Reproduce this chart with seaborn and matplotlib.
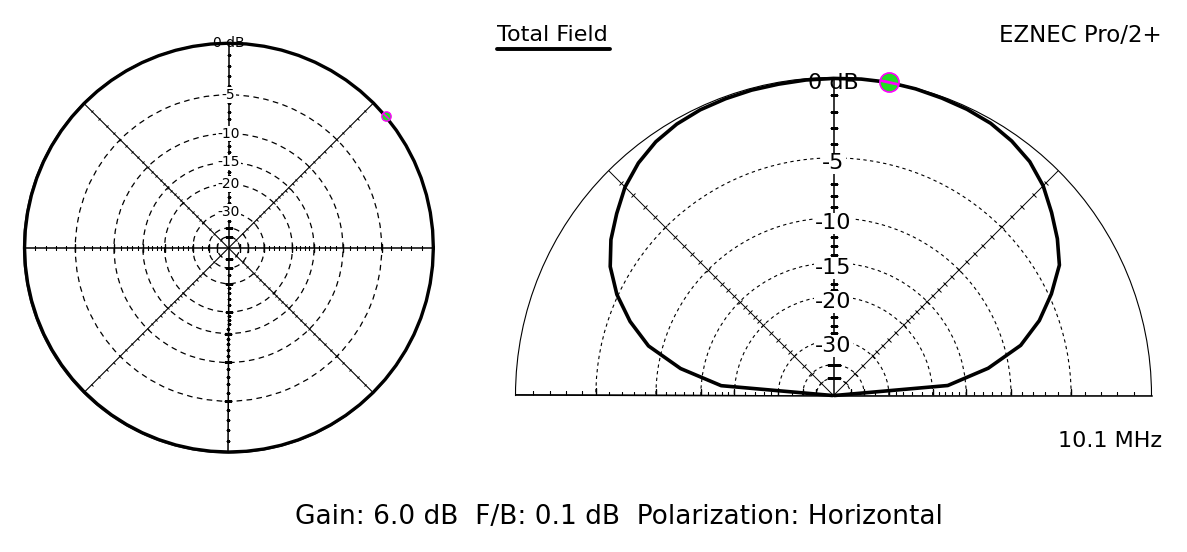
import numpy as np
import matplotlib.pyplot as plt
import seaborn as sns
from matplotlib.lines import Line2D
from matplotlib.markers import MarkerStyle
from matplotlib.transforms import Affine2D

# azimuth pattern (dB) at the elevation of max gain, ccw from +X, 5 deg steps
az_deg = list(range(0, 360, 5))
az_db = [-0.012, -0.009, -0.007, -0.005, -0.003, -0.002, -0.001, 0.0, 0.0, 0.0,
         -0.001, -0.002, -0.003, -0.005, -0.007, -0.009, -0.012, -0.015,
         -0.018, -0.021, -0.025, -0.029, -0.033, -0.037, -0.041, -0.046,
         -0.05, -0.054, -0.059, -0.063, -0.067, -0.071, -0.075, -0.079,
         -0.082, -0.085, -0.088, -0.091, -0.093, -0.095, -0.097, -0.098,
         -0.099, -0.1, -0.1, -0.1, -0.099, -0.098, -0.097, -0.095, -0.093,
         -0.091, -0.088, -0.085, -0.082, -0.079, -0.075, -0.071, -0.067,
         -0.063, -0.059, -0.054, -0.05, -0.046, -0.041, -0.037, -0.033,
         -0.029, -0.025, -0.021, -0.018, -0.015]

# elevation pattern (dB), 0..180 deg
el_deg = list(range(0, 181, 5))
el_db = [-99, -17.5, -12.1, -8.5, -6.4, -4.8, -3.4, -2.6, -1.9, -1.2, -0.7, -0.4,
         -0.2, -0.12, -0.08, -0.03, 0.0, -0.02, -0.05, -0.07, -0.1, -0.1, -0.12,
         -0.15, -0.25, -0.45, -0.8, -1.3, -2.0, -2.7, -3.6, -4.9, -6.6, -8.7,
         -12.3, -17.8, -99]

max_az = 40
max_el = 80

ring_db = [-5, -10, -15, -20, -30, -40, -50]
label_db = [0, -5, -10, -15, -20, -30]
label_txt = ['0 dB', '-5', '-10', '-15', '-20', '-30']
tick_db = [-1, -2, -3, -4, -6, -7, -8, -9, -11, -12, -13, -14, -16, -17, -18, -19,
           -22, -24, -26, -28, -35]

caption = 'Gain: 6.0 dB  F/B: 0.1 dB  Polarization: Horizontal'


def arrl(db):
    # ARRL log scale, radius shrinks to 0.89 every 2 dB
    return 0.89 ** (-np.asarray(db, dtype=float) / 2)


def tick_marks(ax, ang, size, db_list, lw):
    mk = MarkerStyle('|', transform=Affine2D().rotate_deg(ang))
    ax.plot(np.full(len(db_list), np.radians(ang)), arrl(db_list), ls='none',
            marker=mk, ms=size, mew=lw, color='black', zorder=3)


def setup(ax, ring_ls, ring_lw, axis_angles, tick_sz, fs, lab_off, diag_lw):
    ax.set_ylim(0, 1)
    ax.set_yticks(arrl(ring_db))
    ax.set_yticklabels([])
    ax.yaxis.grid(True, color='black', ls=ring_ls, lw=ring_lw)
    ax.xaxis.grid(True, color='black', lw=diag_lw)
    ax.set_facecolor('white')
    for a in axis_angles:
        ax.plot([np.radians(a)] * 2, [0, 1], color='black', lw=1.1, zorder=2)
        tick_marks(ax, a, tick_sz, tick_db, 0.8)
        tick_marks(ax, a, tick_sz * 1.7, ring_db, 1.0)
    for a in ax.get_xticks():
        tick_marks(ax, np.degrees(a), tick_sz * 0.6, tick_db + ring_db, 0.7)
    for d, t in zip(label_db, label_txt):
        box = None if d == 0 else dict(fc='white', ec='none', pad=0.6)
        ax.annotate(t, (np.pi / 2, arrl(d)), xytext=(0, lab_off),
                    textcoords='offset points', ha='center', va='center',
                    fontsize=fs, bbox=box, zorder=6, annotation_clip=False)


sns.set_theme(style='white')
plt.rcParams['font.family'] = ['DejaVu Sans']
plt.rcParams['text.color'] = 'black'

W, H = 1187, 552
fig = plt.figure(figsize=(W / 100, H / 100), dpi=100)

# azimuth plot
axL = fig.add_axes([23.5 / W, 99 / H, 410 / W, 410 / H], projection='polar')
axL.set_xticks(np.radians([45, 135, 225, 315]))
axL.set_xticklabels([])
axL.tick_params(axis='x', length=0)
axL.spines['polar'].set_linewidth(0.8)
setup(axL, (0, (4.5, 3.5)), 0.9, [0, 90, 180, 270], 3.5, 10, 0, 0.8)
th = np.radians(az_deg + [360])
sns.lineplot(x=th, y=arrl(az_db + az_db[:1]), ax=axL, sort=False, estimator=None,
             color='black', lw=2.4, clip_on=False, zorder=4)
sns.scatterplot(x=[np.radians(max_az)], y=[1.0], ax=axL, s=45, color='#22dd22',
                edgecolor='#ff00ff', linewidth=1.0, zorder=7, clip_on=False)
axL.plot([np.radians(max_az)], [1.0], marker=MarkerStyle('_', transform=Affine2D().rotate_deg(-40)),
         ms=6, mew=1.2, color='#ff00ff', zorder=8, clip_on=False)
axL.set_ylim(0, 1)

# elevation plot (square box, the half wedge is centred in it)
axR = fig.add_axes([515.5 / W, -2.5 / H, 636 / W, 636 / H], projection='polar')
axR.set_thetamin(0)
axR.set_thetamax(180)
axR.set_xticks(np.radians([45, 135]))
axR.set_xticklabels([])
axR.set_xticks(np.radians(range(5, 180, 5)), minor=True)
axR.tick_params(axis='x', which='major', length=0)
axR.tick_params(axis='x', which='minor', direction='in', length=4, width=0.8, color='black')
for sp in axR.spines.values():
    sp.set_linewidth(0.8)
    sp.set_color('black')
axR.spines['start'].set_linewidth(1.1)
axR.spines['end'].set_linewidth(1.1)
setup(axR, (0, (3, 3)), 0.8, [0, 90, 180], 6, 16, -4, 0.7)
sns.lineplot(x=np.radians(el_deg), y=arrl(el_db), ax=axR, sort=False, estimator=None,
             color='black', lw=2.6, clip_on=False, zorder=4)
sns.scatterplot(x=[np.radians(max_el)], y=[1.0], ax=axR, s=190, color='#22dd22',
                edgecolor='#ff00ff', linewidth=1.2, zorder=7, clip_on=False)
axR.plot([np.radians(max_el)], [1.0], marker=MarkerStyle('_', transform=Affine2D().rotate_deg(-10)),
         ms=13, mew=2, color='#ff00ff', zorder=8, clip_on=False)
axR.set_ylim(0, 1)

for ax in (axL, axR):
    ax.set_xlabel('')
    ax.set_ylabel('')

# header and footer text
fig.text(497 / W, 1 - 35 / H, 'Total Field', fontsize=16, ha='left', va='center')
fig.add_artist(Line2D([497 / W, 610 / W], [1 - 49 / H] * 2, color='black', lw=2.8))
fig.text(1162 / W, 1 - 35 / H, 'EZNEC Pro/2+', fontsize=16.5, ha='right', va='center')
fig.text(1162 / W, 1 - 441 / H, '10.1 MHz', fontsize=16, ha='right', va='center')
fig.text(619 / W, 1 - 517 / H, caption, fontsize=19, ha='center', va='center')

fig.savefig('out.png', dpi=100, facecolor='white')
